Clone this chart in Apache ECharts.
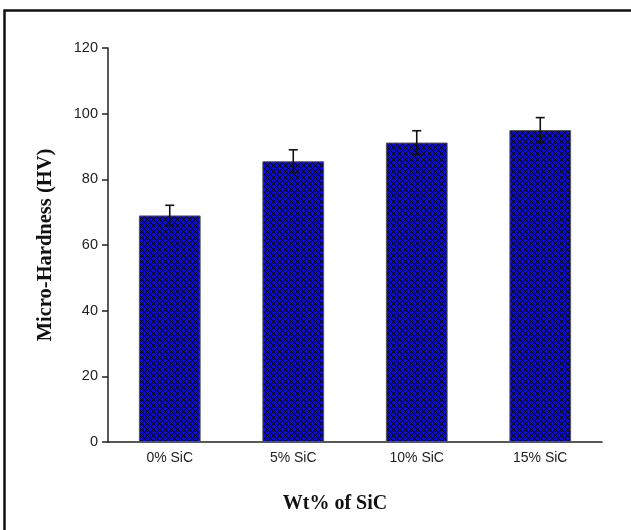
<!DOCTYPE html>
<html>
<head>
<meta charset="utf-8">
<script src="https://cdn.jsdelivr.net/npm/echarts@6/dist/echarts.min.js"></script>
<style>
html,body{margin:0;padding:0;background:#fff;}
#c{width:631px;height:530px;}
</style>
</head>
<body>
<div id="c"></div>
<script>
var categories = ['0% SiC', '5% SiC', '10% SiC', '15% SiC'];
var hardness = [69, 85.5, 91.2, 95];
var errors = [3.1, 3.5, 3.6, 3.8];
var yTicks = [0, 20, 40, 60, 80, 100, 120];

function makePattern() {
  var s = 6;
  var cv = document.createElement('canvas');
  cv.width = s; cv.height = s;
  var ctx = cv.getContext('2d');
  ctx.fillStyle = '#0505f8';
  ctx.fillRect(0, 0, s, s);
  for (var y = 0; y < s; y++) {
    for (var x = 0; x < s; x++) {
      if ((x + y) % s === 0 || (x - y + s) % s === 0) {
        ctx.fillStyle = '#000028';
        ctx.fillRect(x, y, 1, 1);
      }
    }
  }
  return cv;
}

var chart = echarts.init(document.getElementById('c'));
var errData = categories.map(function (c, i) { return [i, hardness[i], errors[i]]; });

chart.setOption({
  animation: false,
  backgroundColor: '#fff',
  grid: { left: 108, right: 29, top: 48, bottom: 88 },
  graphic: [{
    type: 'rect', left: 2, top: 8, silent: true,
    shape: { width: 700, height: 600 },
    style: { fill: 'none', stroke: '#111', lineWidth: 2.5 }
  }],
  xAxis: {
    type: 'category',
    data: categories,
    axisLine: { lineStyle: { color: '#222', width: 1.5 } },
    axisTick: { show: false },
    axisLabel: { color: '#222', fontSize: 14, fontFamily: 'Liberation Sans, Arial', margin: 9 },
    name: 'Wt% of SiC',
    nameLocation: 'middle',
    nameGap: 52,
    nameTextStyle: { fontFamily: 'Liberation Serif, Times New Roman', fontWeight: 'bold', fontSize: 20, color: '#111', padding: [0, 40, 0, 0] }
  },
  yAxis: {
    type: 'value',
    min: yTicks[0], max: yTicks[yTicks.length - 1], interval: 20,
    splitLine: { show: false },
    axisLine: { show: true, lineStyle: { color: '#222', width: 1.5 } },
    axisTick: { show: true, length: 6, lineStyle: { color: '#222', width: 1.5 } },
    axisLabel: { color: '#222', fontSize: 14.5, fontFamily: 'Liberation Sans, Arial', margin: 10 },
    name: 'Micro-Hardness (HV)',
    nameLocation: 'middle',
    nameGap: 52,
    nameTextStyle: { fontFamily: 'Liberation Serif, Times New Roman', fontWeight: 'bold', fontSize: 20.5, color: '#111' }
  },
  series: [{
    type: 'bar',
    data: hardness,
    barWidth: '50%',
    itemStyle: {
      color: { image: makePattern(), repeat: 'repeat' },
      borderColor: '#555',
      borderWidth: 1
    }
  }, {
    type: 'custom',
    data: errData,
    z: 10,
    renderItem: function (params, api) {
      var i = api.value(0), v = api.value(1), e = api.value(2);
      var top = api.coord([i, v + e]);
      var bot = api.coord([i, v - e]);
      var hw = 4.5;
      var st = { stroke: '#111', lineWidth: 1.6, fill: 'none' };
      return {
        type: 'group',
        children: [
          { type: 'line', shape: { x1: top[0], y1: top[1], x2: bot[0], y2: bot[1] }, style: st },
          { type: 'line', shape: { x1: top[0] - hw, y1: top[1], x2: top[0] + hw, y2: top[1] }, style: st },
          { type: 'line', shape: { x1: bot[0] - hw, y1: bot[1], x2: bot[0] + hw, y2: bot[1] }, style: st }
        ]
      };
    }
  }]
});
</script>
</body>
</html>
